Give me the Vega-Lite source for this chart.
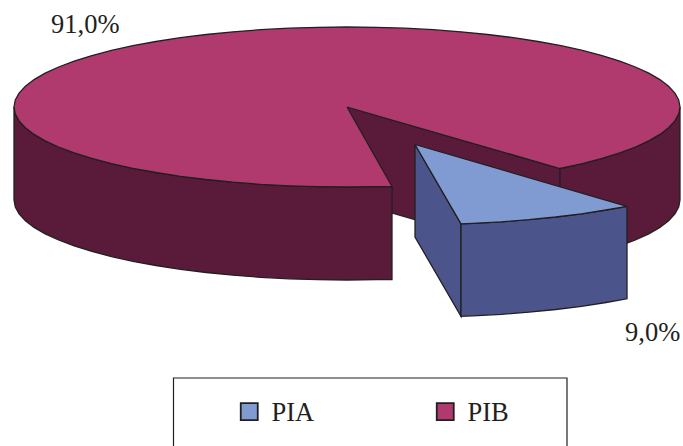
{"$schema":"https://vega.github.io/schema/vega-lite/v6.json","width":683,"height":446,"padding":0,"autosize":{"type":"none"},"background":"white","view":{"stroke":null},
"layer":[
{"data":{"values":[
{"part":"cut wall","face":"PIB side","step":1,"x":347,"y":107},{"part":"cut wall","face":"PIB side","step":2,"x":560,"y":168.5},{"part":"cut wall","face":"PIB side","step":3,"x":560,"y":261.5},{"part":"cut wall","face":"PIB side","step":4,"x":347,"y":200},{"part":"cut wall","face":"PIB side","step":5,"x":347,"y":107},

{"part":"rim right","face":"PIB side","step":1,"x":560,"y":168.5},{"part":"rim right","face":"PIB side","step":2,"x":582.5,"y":163.6},{"part":"rim right","face":"PIB side","step":3,"x":602.1,"y":158.4},{"part":"rim right","face":"PIB side","step":4,"x":619.8,"y":152.9},{"part":"rim right","face":"PIB side","step":5,"x":635.4,"y":147},{"part":"rim right","face":"PIB side","step":6,"x":648.8,"y":140.8},{"part":"rim right","face":"PIB side","step":7,"x":659.9,"y":134.4},{"part":"rim right","face":"PIB side","step":8,"x":668.6,"y":127.7},{"part":"rim right","face":"PIB side","step":9,"x":674.9,"y":120.9},{"part":"rim right","face":"PIB side","step":10,"x":678.7,"y":114},{"part":"rim right","face":"PIB side","step":11,"x":680,"y":107},{"part":"rim right","face":"PIB side","step":12,"x":680,"y":200},{"part":"rim right","face":"PIB side","step":13,"x":678.7,"y":207},{"part":"rim right","face":"PIB side","step":14,"x":674.9,"y":213.9},{"part":"rim right","face":"PIB side","step":15,"x":668.6,"y":220.7},{"part":"rim right","face":"PIB side","step":16,"x":659.9,"y":227.4},{"part":"rim right","face":"PIB side","step":17,"x":648.8,"y":233.8},{"part":"rim right","face":"PIB side","step":18,"x":635.4,"y":240},{"part":"rim right","face":"PIB side","step":19,"x":619.8,"y":245.9},{"part":"rim right","face":"PIB side","step":20,"x":602.1,"y":251.4},{"part":"rim right","face":"PIB side","step":21,"x":582.5,"y":256.6},{"part":"rim right","face":"PIB side","step":22,"x":560,"y":261.5},{"part":"rim right","face":"PIB side","step":23,"x":560,"y":168.5},

{"part":"rim left","face":"PIB side","step":1,"x":392,"y":186.5},{"part":"rim left","face":"PIB side","step":2,"x":376,"y":186.7},{"part":"rim left","face":"PIB side","step":3,"x":347,"y":187},{"part":"rim left","face":"PIB side","step":4,"x":318,"y":186.7},{"part":"rim left","face":"PIB side","step":5,"x":289.2,"y":185.8},{"part":"rim left","face":"PIB side","step":6,"x":260.8,"y":184.3},{"part":"rim left","face":"PIB side","step":7,"x":233.1,"y":182.2},{"part":"rim left","face":"PIB side","step":8,"x":206.3,"y":179.5},{"part":"rim left","face":"PIB side","step":9,"x":180.5,"y":176.3},{"part":"rim left","face":"PIB side","step":10,"x":156,"y":172.5},{"part":"rim left","face":"PIB side","step":11,"x":132.9,"y":168.3},{"part":"rim left","face":"PIB side","step":12,"x":111.5,"y":163.6},{"part":"rim left","face":"PIB side","step":13,"x":91.9,"y":158.4},{"part":"rim left","face":"PIB side","step":14,"x":74.2,"y":152.9},{"part":"rim left","face":"PIB side","step":15,"x":58.6,"y":147},{"part":"rim left","face":"PIB side","step":16,"x":45.2,"y":140.8},{"part":"rim left","face":"PIB side","step":17,"x":34.1,"y":134.4},{"part":"rim left","face":"PIB side","step":18,"x":25.4,"y":127.7},{"part":"rim left","face":"PIB side","step":19,"x":19.1,"y":120.9},{"part":"rim left","face":"PIB side","step":20,"x":15.3,"y":114},{"part":"rim left","face":"PIB side","step":21,"x":14,"y":107},{"part":"rim left","face":"PIB side","step":22,"x":14,"y":200},{"part":"rim left","face":"PIB side","step":23,"x":15.3,"y":207},{"part":"rim left","face":"PIB side","step":24,"x":19.1,"y":213.9},{"part":"rim left","face":"PIB side","step":25,"x":25.4,"y":220.7},{"part":"rim left","face":"PIB side","step":26,"x":34.1,"y":227.4},{"part":"rim left","face":"PIB side","step":27,"x":45.2,"y":233.8},{"part":"rim left","face":"PIB side","step":28,"x":58.6,"y":240},{"part":"rim left","face":"PIB side","step":29,"x":74.2,"y":245.9},{"part":"rim left","face":"PIB side","step":30,"x":91.9,"y":251.4},{"part":"rim left","face":"PIB side","step":31,"x":111.5,"y":256.6},{"part":"rim left","face":"PIB side","step":32,"x":132.9,"y":261.3},{"part":"rim left","face":"PIB side","step":33,"x":156,"y":265.5},{"part":"rim left","face":"PIB side","step":34,"x":180.5,"y":269.3},{"part":"rim left","face":"PIB side","step":35,"x":206.3,"y":272.5},{"part":"rim left","face":"PIB side","step":36,"x":233.1,"y":275.2},{"part":"rim left","face":"PIB side","step":37,"x":260.8,"y":277.3},{"part":"rim left","face":"PIB side","step":38,"x":289.2,"y":278.8},{"part":"rim left","face":"PIB side","step":39,"x":318,"y":279.7},{"part":"rim left","face":"PIB side","step":40,"x":347,"y":280},{"part":"rim left","face":"PIB side","step":41,"x":376,"y":279.7},{"part":"rim left","face":"PIB side","step":42,"x":392,"y":279.5},{"part":"rim left","face":"PIB side","step":43,"x":392,"y":186.5},

{"part":"PIB top","face":"PIB","step":1,"x":347,"y":107},{"part":"PIB top","face":"PIB","step":2,"x":560,"y":168.5},{"part":"PIB top","face":"PIB","step":3,"x":582.5,"y":163.6},{"part":"PIB top","face":"PIB","step":4,"x":602.1,"y":158.4},{"part":"PIB top","face":"PIB","step":5,"x":619.8,"y":152.9},{"part":"PIB top","face":"PIB","step":6,"x":635.4,"y":147},{"part":"PIB top","face":"PIB","step":7,"x":648.8,"y":140.8},{"part":"PIB top","face":"PIB","step":8,"x":659.9,"y":134.4},{"part":"PIB top","face":"PIB","step":9,"x":668.6,"y":127.7},{"part":"PIB top","face":"PIB","step":10,"x":674.9,"y":120.9},{"part":"PIB top","face":"PIB","step":11,"x":678.7,"y":114},{"part":"PIB top","face":"PIB","step":12,"x":680,"y":107},{"part":"PIB top","face":"PIB","step":13,"x":678.7,"y":100},{"part":"PIB top","face":"PIB","step":14,"x":674.9,"y":93.1},{"part":"PIB top","face":"PIB","step":15,"x":668.6,"y":86.3},{"part":"PIB top","face":"PIB","step":16,"x":659.9,"y":79.6},{"part":"PIB top","face":"PIB","step":17,"x":648.8,"y":73.2},{"part":"PIB top","face":"PIB","step":18,"x":635.4,"y":67},{"part":"PIB top","face":"PIB","step":19,"x":619.8,"y":61.1},{"part":"PIB top","face":"PIB","step":20,"x":602.1,"y":55.6},{"part":"PIB top","face":"PIB","step":21,"x":582.5,"y":50.4},{"part":"PIB top","face":"PIB","step":22,"x":561.1,"y":45.7},{"part":"PIB top","face":"PIB","step":23,"x":538,"y":41.5},{"part":"PIB top","face":"PIB","step":24,"x":513.5,"y":37.7},{"part":"PIB top","face":"PIB","step":25,"x":487.7,"y":34.5},{"part":"PIB top","face":"PIB","step":26,"x":460.9,"y":31.8},{"part":"PIB top","face":"PIB","step":27,"x":433.2,"y":29.7},{"part":"PIB top","face":"PIB","step":28,"x":404.8,"y":28.2},{"part":"PIB top","face":"PIB","step":29,"x":376,"y":27.3},{"part":"PIB top","face":"PIB","step":30,"x":347,"y":27},{"part":"PIB top","face":"PIB","step":31,"x":318,"y":27.3},{"part":"PIB top","face":"PIB","step":32,"x":289.2,"y":28.2},{"part":"PIB top","face":"PIB","step":33,"x":260.8,"y":29.7},{"part":"PIB top","face":"PIB","step":34,"x":233.1,"y":31.8},{"part":"PIB top","face":"PIB","step":35,"x":206.3,"y":34.5},{"part":"PIB top","face":"PIB","step":36,"x":180.5,"y":37.7},{"part":"PIB top","face":"PIB","step":37,"x":156,"y":41.5},{"part":"PIB top","face":"PIB","step":38,"x":132.9,"y":45.7},{"part":"PIB top","face":"PIB","step":39,"x":111.5,"y":50.4},{"part":"PIB top","face":"PIB","step":40,"x":91.9,"y":55.6},{"part":"PIB top","face":"PIB","step":41,"x":74.2,"y":61.1},{"part":"PIB top","face":"PIB","step":42,"x":58.6,"y":67},{"part":"PIB top","face":"PIB","step":43,"x":45.2,"y":73.2},{"part":"PIB top","face":"PIB","step":44,"x":34.1,"y":79.6},{"part":"PIB top","face":"PIB","step":45,"x":25.4,"y":86.3},{"part":"PIB top","face":"PIB","step":46,"x":19.1,"y":93.1},{"part":"PIB top","face":"PIB","step":47,"x":15.3,"y":100},{"part":"PIB top","face":"PIB","step":48,"x":14,"y":107},{"part":"PIB top","face":"PIB","step":49,"x":15.3,"y":114},{"part":"PIB top","face":"PIB","step":50,"x":19.1,"y":120.9},{"part":"PIB top","face":"PIB","step":51,"x":25.4,"y":127.7},{"part":"PIB top","face":"PIB","step":52,"x":34.1,"y":134.4},{"part":"PIB top","face":"PIB","step":53,"x":45.2,"y":140.8},{"part":"PIB top","face":"PIB","step":54,"x":58.6,"y":147},{"part":"PIB top","face":"PIB","step":55,"x":74.2,"y":152.9},{"part":"PIB top","face":"PIB","step":56,"x":91.9,"y":158.4},{"part":"PIB top","face":"PIB","step":57,"x":111.5,"y":163.6},{"part":"PIB top","face":"PIB","step":58,"x":132.9,"y":168.3},{"part":"PIB top","face":"PIB","step":59,"x":156,"y":172.5},{"part":"PIB top","face":"PIB","step":60,"x":180.5,"y":176.3},{"part":"PIB top","face":"PIB","step":61,"x":206.3,"y":179.5},{"part":"PIB top","face":"PIB","step":62,"x":233.1,"y":182.2},{"part":"PIB top","face":"PIB","step":63,"x":260.8,"y":184.3},{"part":"PIB top","face":"PIB","step":64,"x":289.2,"y":185.8},{"part":"PIB top","face":"PIB","step":65,"x":318,"y":186.7},{"part":"PIB top","face":"PIB","step":66,"x":347,"y":187},{"part":"PIB top","face":"PIB","step":67,"x":376,"y":186.7},{"part":"PIB top","face":"PIB","step":68,"x":392,"y":186.5},{"part":"PIB top","face":"PIB","step":69,"x":347,"y":107},

{"part":"PIA side","face":"PIA side","step":1,"x":415,"y":144.5},{"part":"PIA side","face":"PIA side","step":2,"x":461,"y":223.8},{"part":"PIA side","face":"PIA side","step":3,"x":461,"y":316.3},{"part":"PIA side","face":"PIA side","step":4,"x":415,"y":237},{"part":"PIA side","face":"PIA side","step":5,"x":415,"y":144.5},

{"part":"PIA rim","face":"PIA side","step":1,"x":627,"y":206.3},{"part":"PIA rim","face":"PIA side","step":2,"x":606,"y":210},{"part":"PIA rim","face":"PIA side","step":3,"x":581.5,"y":213.8},{"part":"PIA rim","face":"PIA side","step":4,"x":555.7,"y":217},{"part":"PIA rim","face":"PIA side","step":5,"x":528.9,"y":219.7},{"part":"PIA rim","face":"PIA side","step":6,"x":501.2,"y":221.8},{"part":"PIA rim","face":"PIA side","step":7,"x":472.8,"y":223.3},{"part":"PIA rim","face":"PIA side","step":8,"x":461,"y":223.8},{"part":"PIA rim","face":"PIA side","step":9,"x":461,"y":316.3},{"part":"PIA rim","face":"PIA side","step":10,"x":472.8,"y":315.8},{"part":"PIA rim","face":"PIA side","step":11,"x":501.2,"y":314.3},{"part":"PIA rim","face":"PIA side","step":12,"x":528.9,"y":312.2},{"part":"PIA rim","face":"PIA side","step":13,"x":555.7,"y":309.5},{"part":"PIA rim","face":"PIA side","step":14,"x":581.5,"y":306.3},{"part":"PIA rim","face":"PIA side","step":15,"x":606,"y":302.5},{"part":"PIA rim","face":"PIA side","step":16,"x":627,"y":298.8},{"part":"PIA rim","face":"PIA side","step":17,"x":627,"y":206.3},

{"part":"PIA top","face":"PIA","step":1,"x":415,"y":144.5},{"part":"PIA top","face":"PIA","step":2,"x":627,"y":206.3},{"part":"PIA top","face":"PIA","step":3,"x":606,"y":210},{"part":"PIA top","face":"PIA","step":4,"x":581.5,"y":213.8},{"part":"PIA top","face":"PIA","step":5,"x":555.7,"y":217},{"part":"PIA top","face":"PIA","step":6,"x":528.9,"y":219.7},{"part":"PIA top","face":"PIA","step":7,"x":501.2,"y":221.8},{"part":"PIA top","face":"PIA","step":8,"x":472.8,"y":223.3},{"part":"PIA top","face":"PIA","step":9,"x":461,"y":223.8},{"part":"PIA top","face":"PIA","step":10,"x":415,"y":144.5}
]},
"mark":{"type":"line","stroke":"#231f20","strokeWidth":1.3,"strokeJoin":"miter"},
"encoding":{
"x":{"field":"x","type":"quantitative","scale":{"domain":[0,683],"nice":false,"zero":false},"axis":null},
"y":{"field":"y","type":"quantitative","scale":{"domain":[446,0],"nice":false,"zero":false},"axis":null},
"detail":{"field":"part"},
"order":{"field":"step","type":"quantitative"},
"fill":{"field":"face","type":"nominal","scale":{"domain":["PIA","PIB","PIA side","PIB side"],"range":["#7f9bd1","#b03a6e","#4b558c","#5a1a3a"]},
"legend":{"title":null,"orient":"none","legendX":236,"legendY":398,"values":["PIA","PIB"],"direction":"horizontal","columns":2,"symbolType":"square","symbolSize":289,"symbolStrokeColor":"#231f20","symbolStrokeWidth":1.8,"symbolOpacity":1,"labelFont":"Liberation Serif","labelFontSize":26.5,"labelColor":"#231f20","labelOffset":9,"columnPadding":117,"padding":0,"encode":{"labels":{"update":{"dy":{"value":1.5}}}}}}
}},
{"data":{"values":[{"x":173.5,"y":446,"step":1},{"x":173.5,"y":378,"step":2},{"x":567,"y":378,"step":3},{"x":567,"y":446,"step":4}]},
"mark":{"type":"line","stroke":"#231f20","strokeWidth":1.2},
"encoding":{"x":{"field":"x","type":"quantitative"},"y":{"field":"y","type":"quantitative"},"order":{"field":"step","type":"quantitative"}}},
{"data":{"values":[{"x":51,"y":33,"label":"91,0%"},{"x":625,"y":341,"label":"9,0%"}]},
"mark":{"type":"text","font":"Liberation Serif","fontSize":26.5,"align":"left","baseline":"alphabetic","color":"#231f20"},
"encoding":{"x":{"field":"x","type":"quantitative"},"y":{"field":"y","type":"quantitative"},"text":{"field":"label","type":"nominal"}}}
]}
